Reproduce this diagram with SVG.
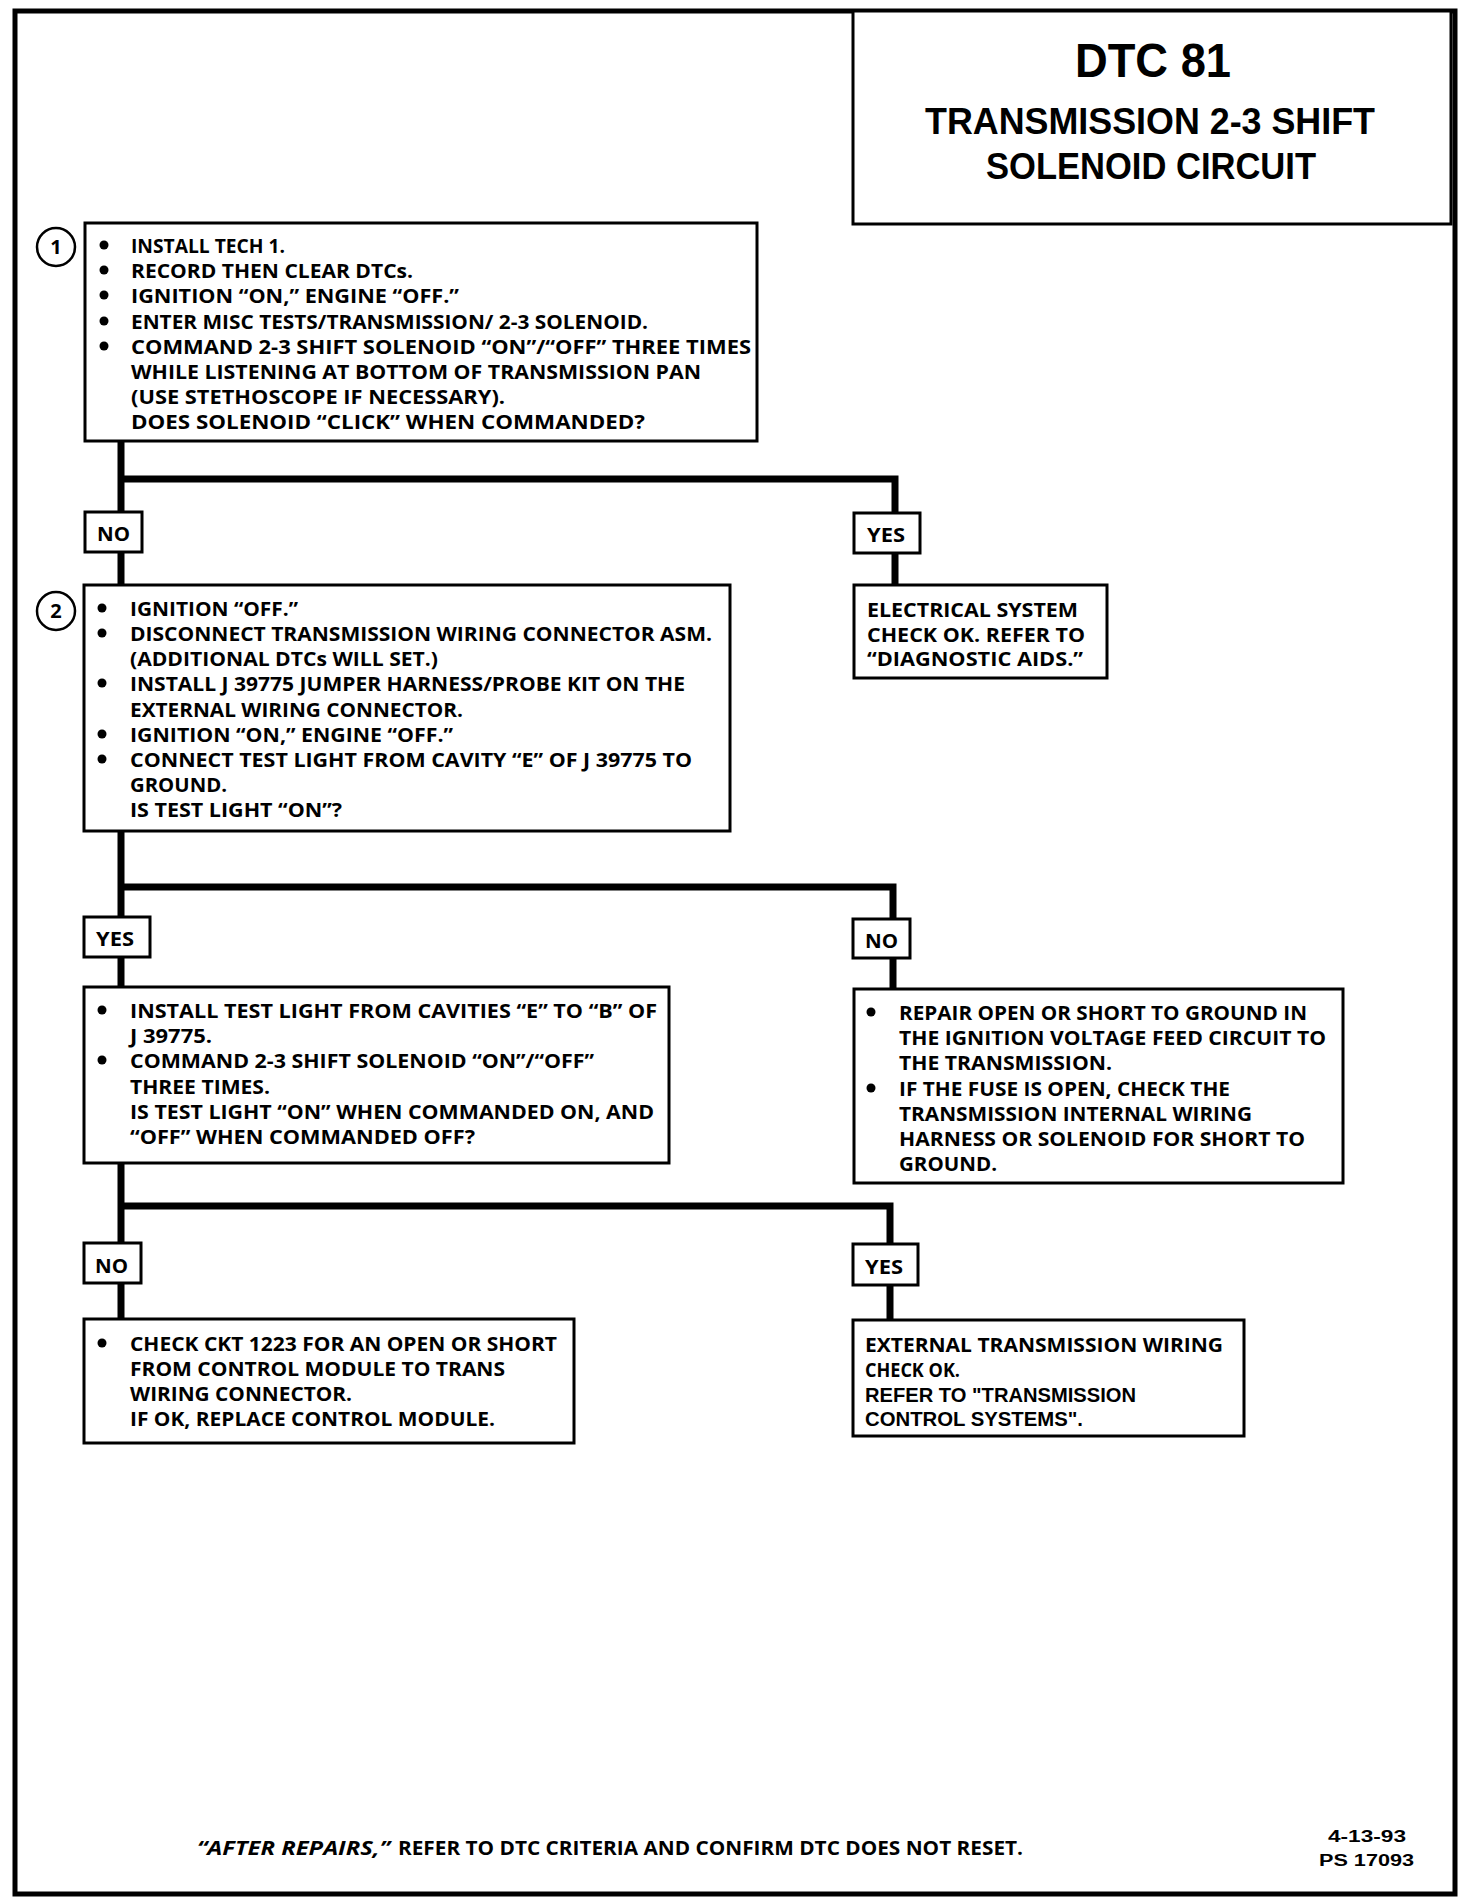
<svg xmlns="http://www.w3.org/2000/svg" width="1472" height="1904" viewBox="0 0 1472 1904">
<style>
.t{font-family:"Open Sans","Liberation Sans",sans-serif;font-weight:700;font-size:20px;fill:#000}
.h{font-family:"Liberation Sans",Arial,sans-serif;font-weight:700;font-size:20px;fill:#000}
.ttl{font-family:"Liberation Sans",Arial,sans-serif;font-weight:700;fill:#000}
.box{fill:#fff;stroke:#000;stroke-width:3}
.lbl{fill:#fff;stroke:#000;stroke-width:3}
.conn{fill:none;stroke:#000;stroke-width:7;stroke-linejoin:miter;stroke-linecap:butt}
.b{fill:#000}
.num{fill:#fff;stroke:#000;stroke-width:2.5}
</style>
<rect x="0" y="0" width="1472" height="1904" fill="#fff"/>
<rect id="frame" x="15" y="11" width="1440" height="1883" fill="none" stroke="#000" stroke-width="5"/>

<g id="title">
<rect x="853" y="11" width="598" height="213" fill="#fff" stroke="#000" stroke-width="3"/>
<text class="ttl" x="1075" y="77" font-size="48" textLength="156" lengthAdjust="spacingAndGlyphs">DTC 81</text>
<text class="ttl" x="925" y="134" font-size="37" textLength="450" lengthAdjust="spacingAndGlyphs">TRANSMISSION 2-3 SHIFT</text>
<text class="ttl" x="986" y="179" font-size="37" textLength="330" lengthAdjust="spacingAndGlyphs">SOLENOID CIRCUIT</text>
</g>

<g id="connectors">
<path class="conn" d="M121 441 V585"/>
<path class="conn" d="M121 479 H895 V585"/>
<path class="conn" d="M121 831 V987"/>
<path class="conn" d="M121 887 H893 V989"/>
<path class="conn" d="M121 1163 V1319"/>
<path class="conn" d="M121 1206 H890 V1320"/>
</g>

<g id="step1">
<circle class="num" cx="56" cy="247" r="19"/>
<text class="t" x="56" y="254" text-anchor="middle">1</text>
<rect class="box" x="85" y="223" width="672" height="218"/>
<circle class="b" cx="104" cy="245" r="4.5"/>
<circle class="b" cx="104" cy="270" r="4.5"/>
<circle class="b" cx="104" cy="295" r="4.5"/>
<circle class="b" cx="104" cy="321" r="4.5"/>
<circle class="b" cx="104" cy="346" r="4.5"/>
<text class="t" x="131" y="252.5" textLength="154" lengthAdjust="spacingAndGlyphs">INSTALL TECH 1.</text>
<text class="t" x="131" y="277.5" textLength="282" lengthAdjust="spacingAndGlyphs">RECORD THEN CLEAR DTCs.</text>
<text class="t" x="131" y="302.5" textLength="328" lengthAdjust="spacingAndGlyphs">IGNITION “ON,”  ENGINE “OFF.”</text>
<text class="t" x="131" y="328.5" textLength="517" lengthAdjust="spacingAndGlyphs">ENTER MISC TESTS/TRANSMISSION/ 2-3 SOLENOID.</text>
<text class="t" x="131" y="353.5" textLength="620" lengthAdjust="spacingAndGlyphs">COMMAND 2-3 SHIFT SOLENOID “ON”/“OFF” THREE TIMES</text>
<text class="t" x="131" y="378.5" textLength="570" lengthAdjust="spacingAndGlyphs">WHILE LISTENING AT BOTTOM OF TRANSMISSION PAN</text>
<text class="t" x="131" y="403.5" textLength="374" lengthAdjust="spacingAndGlyphs">(USE STETHOSCOPE IF NECESSARY).</text>
<text class="t" x="131" y="428.5" textLength="514" lengthAdjust="spacingAndGlyphs">DOES SOLENOID “CLICK” WHEN COMMANDED?</text>
</g>

<g id="label-no-1">
<rect class="lbl" x="85" y="512" width="57" height="40"/>
<text class="t" x="97" y="540.5" textLength="33" lengthAdjust="spacingAndGlyphs">NO</text>
</g>
<g id="label-yes-1">
<rect class="lbl" x="854" y="513" width="66" height="40"/>
<text class="t" x="867" y="541.5" textLength="38" lengthAdjust="spacingAndGlyphs">YES</text>
</g>

<g id="electrical-ok">
<rect class="box" x="854" y="585" width="253" height="93"/>
<text class="t" x="867" y="617" textLength="211" lengthAdjust="spacingAndGlyphs">ELECTRICAL SYSTEM</text>
<text class="t" x="867" y="641.5" textLength="218" lengthAdjust="spacingAndGlyphs">CHECK OK.  REFER TO</text>
<text class="t" x="867" y="666" textLength="216" lengthAdjust="spacingAndGlyphs">“DIAGNOSTIC AIDS.”</text>
</g>

<g id="step2">
<circle class="num" cx="56" cy="611" r="19"/>
<text class="t" x="56" y="618" text-anchor="middle">2</text>
<rect class="box" x="84" y="585" width="646" height="246"/>
<circle class="b" cx="102" cy="608" r="4.5"/>
<circle class="b" cx="102" cy="633" r="4.5"/>
<circle class="b" cx="102" cy="683" r="4.5"/>
<circle class="b" cx="102" cy="734" r="4.5"/>
<circle class="b" cx="102" cy="759" r="4.5"/>
<text class="t" x="130" y="615.5" textLength="168" lengthAdjust="spacingAndGlyphs">IGNITION “OFF.”</text>
<text class="t" x="130" y="640.5" textLength="582" lengthAdjust="spacingAndGlyphs">DISCONNECT TRANSMISSION WIRING CONNECTOR ASM.</text>
<text class="t" x="130" y="665.5" textLength="308" lengthAdjust="spacingAndGlyphs">(ADDITIONAL DTCs WILL SET.)</text>
<text class="t" x="130" y="690.5" textLength="555" lengthAdjust="spacingAndGlyphs">INSTALL J 39775 JUMPER HARNESS/PROBE KIT ON THE</text>
<text class="t" x="130" y="716.5" textLength="333" lengthAdjust="spacingAndGlyphs">EXTERNAL WIRING CONNECTOR.</text>
<text class="t" x="130" y="741.5" textLength="323" lengthAdjust="spacingAndGlyphs">IGNITION “ON,” ENGINE “OFF.”</text>
<text class="t" x="130" y="766.5" textLength="562" lengthAdjust="spacingAndGlyphs">CONNECT TEST LIGHT FROM CAVITY “E” OF J 39775 TO</text>
<text class="t" x="130" y="791.5" textLength="97" lengthAdjust="spacingAndGlyphs">GROUND.</text>
<text class="t" x="130" y="816.5" textLength="212" lengthAdjust="spacingAndGlyphs">IS TEST LIGHT “ON”?</text>
</g>

<g id="label-yes-2">
<rect class="lbl" x="84" y="917" width="66" height="40"/>
<text class="t" x="96" y="945.5" textLength="38" lengthAdjust="spacingAndGlyphs">YES</text>
</g>
<g id="label-no-2">
<rect class="lbl" x="853" y="919" width="57" height="39"/>
<text class="t" x="865" y="947.5" textLength="33" lengthAdjust="spacingAndGlyphs">NO</text>
</g>

<g id="step3">
<rect class="box" x="84" y="987" width="585" height="176"/>
<circle class="b" cx="102" cy="1010" r="4.5"/>
<circle class="b" cx="102" cy="1060" r="4.5"/>
<text class="t" x="130" y="1017.5" textLength="527" lengthAdjust="spacingAndGlyphs">INSTALL TEST LIGHT FROM CAVITIES “E” TO “B” OF</text>
<text class="t" x="130" y="1042.5" textLength="82" lengthAdjust="spacingAndGlyphs">J 39775.</text>
<text class="t" x="130" y="1067.5" textLength="464" lengthAdjust="spacingAndGlyphs">COMMAND 2-3 SHIFT SOLENOID “ON”/“OFF”</text>
<text class="t" x="130" y="1093.5" textLength="140" lengthAdjust="spacingAndGlyphs">THREE TIMES.</text>
<text class="t" x="130" y="1118.5" textLength="524" lengthAdjust="spacingAndGlyphs">IS TEST LIGHT “ON” WHEN COMMANDED ON, AND</text>
<text class="t" x="130" y="1143.5" textLength="345" lengthAdjust="spacingAndGlyphs">“OFF” WHEN COMMANDED OFF?</text>
</g>

<g id="repair-feed">
<rect class="box" x="854" y="989" width="489" height="194"/>
<circle class="b" cx="871" cy="1012" r="4.5"/>
<circle class="b" cx="871" cy="1088" r="4.5"/>
<text class="t" x="899" y="1019.5" textLength="408" lengthAdjust="spacingAndGlyphs">REPAIR OPEN OR SHORT TO GROUND IN</text>
<text class="t" x="899" y="1044.5" textLength="427" lengthAdjust="spacingAndGlyphs">THE  IGNITION VOLTAGE FEED CIRCUIT TO</text>
<text class="t" x="899" y="1069.5" textLength="213" lengthAdjust="spacingAndGlyphs">THE TRANSMISSION.</text>
<text class="t" x="899" y="1095.5" textLength="331" lengthAdjust="spacingAndGlyphs">IF THE FUSE IS OPEN, CHECK THE</text>
<text class="t" x="899" y="1120.5" textLength="353" lengthAdjust="spacingAndGlyphs">TRANSMISSION INTERNAL WIRING</text>
<text class="t" x="899" y="1145.5" textLength="406" lengthAdjust="spacingAndGlyphs">HARNESS OR SOLENOID FOR SHORT TO</text>
<text class="t" x="899" y="1170.5" textLength="98" lengthAdjust="spacingAndGlyphs">GROUND.</text>
</g>

<g id="label-no-3">
<rect class="lbl" x="84" y="1243" width="57" height="40"/>
<text class="t" x="95" y="1272.5" textLength="33" lengthAdjust="spacingAndGlyphs">NO</text>
</g>
<g id="label-yes-3">
<rect class="lbl" x="853" y="1244" width="65" height="41"/>
<text class="t" x="865" y="1273.5" textLength="38" lengthAdjust="spacingAndGlyphs">YES</text>
</g>

<g id="check-ckt">
<rect class="box" x="84" y="1319" width="490" height="124"/>
<circle class="b" cx="102" cy="1343" r="4.5"/>
<text class="t" x="130" y="1350.5" textLength="427" lengthAdjust="spacingAndGlyphs">CHECK CKT 1223 FOR AN OPEN OR SHORT</text>
<text class="t" x="130" y="1375.5" textLength="375" lengthAdjust="spacingAndGlyphs">FROM CONTROL MODULE TO TRANS</text>
<text class="t" x="130" y="1400.5" textLength="222" lengthAdjust="spacingAndGlyphs">WIRING CONNECTOR.</text>
<text class="t" x="130" y="1425.5" textLength="365" lengthAdjust="spacingAndGlyphs">IF OK, REPLACE CONTROL MODULE.</text>
</g>

<g id="external-ok">
<rect class="box" x="853" y="1320" width="391" height="116"/>
<text class="t" x="865" y="1351.5" textLength="358" lengthAdjust="spacingAndGlyphs">EXTERNAL TRANSMISSION WIRING</text>
<text class="t" x="865" y="1376.5" textLength="95" lengthAdjust="spacingAndGlyphs">CHECK OK.</text>
<text class="h" x="865" y="1402" textLength="271" lengthAdjust="spacingAndGlyphs">REFER TO  "TRANSMISSION</text>
<text class="h" x="865" y="1426" textLength="218" lengthAdjust="spacingAndGlyphs">CONTROL SYSTEMS".</text>
</g>

<g id="footer">
<text class="t" x="197" y="1855" font-size="18" font-style="italic" textLength="193" lengthAdjust="spacingAndGlyphs">“AFTER REPAIRS,”</text>
<text class="t" x="398" y="1855" font-size="18" textLength="625" lengthAdjust="spacingAndGlyphs">REFER TO DTC CRITERIA AND CONFIRM DTC DOES NOT RESET.</text>
<text class="ttl" x="1328" y="1842" font-size="16" textLength="78" lengthAdjust="spacingAndGlyphs">4-13-93</text>
<text class="ttl" x="1319" y="1866" font-size="16" textLength="95" lengthAdjust="spacingAndGlyphs">PS 17093</text>
</g>
</svg>
